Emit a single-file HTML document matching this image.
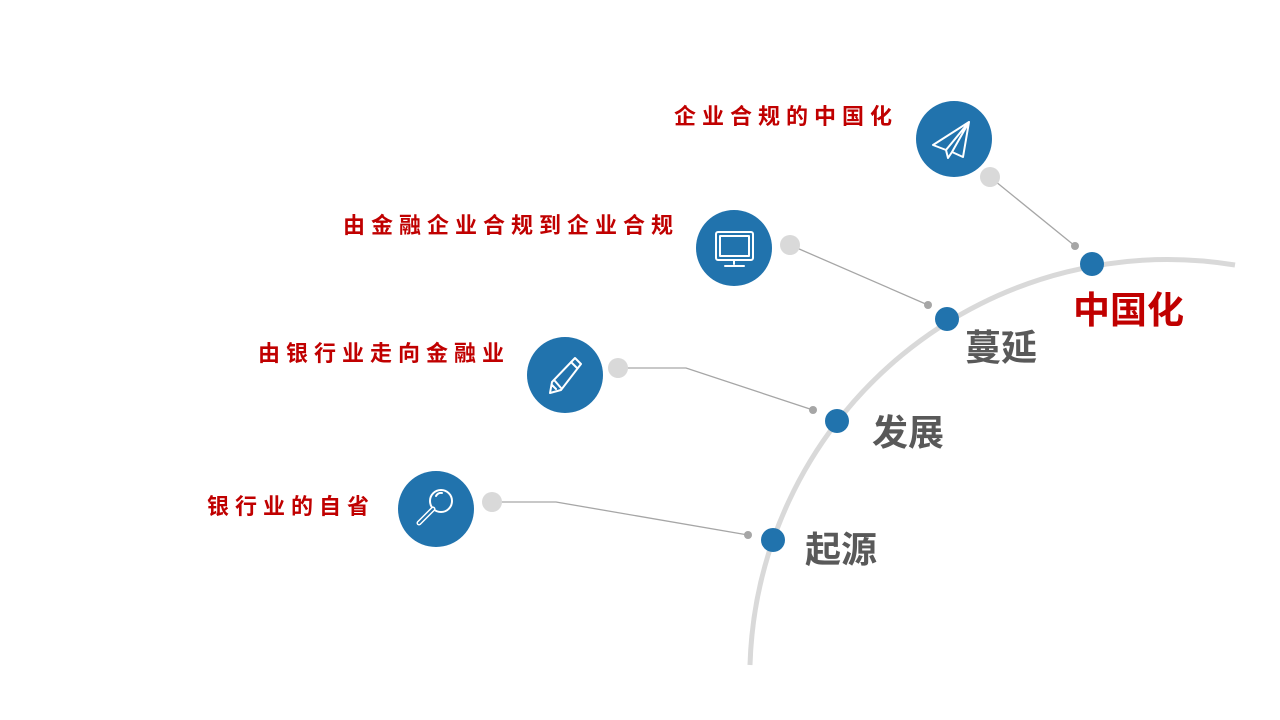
<!DOCTYPE html>
<html><head><meta charset="utf-8"><style>
body{margin:0;width:1280px;height:720px;background:#fff;overflow:hidden;position:relative;font-family:"Liberation Sans","Noto Sans CJK SC",sans-serif}
.r{position:absolute;color:#c00000;font-weight:bold;font-size:22px;letter-spacing:6px;line-height:30px;white-space:nowrap}
.g{position:absolute;color:#595959;font-weight:bold;font-size:36px;line-height:40px;white-space:nowrap}
svg{position:absolute;left:0;top:0}
</style></head><body>
<svg width="1280" height="720">
<path d="M750 665 A418 418 0 0 1 1235 265" fill="none" stroke="#d9d9d9" stroke-width="5"/>
<g stroke="#a6a6a6" stroke-width="1.3" fill="none">
<polyline points="990,177 1075,246"/>
<polyline points="790,245 928,305"/>
<polyline points="618,368 686,368 813,410"/>
<polyline points="492,502 556,502 748,535"/>
</g>
<g fill="#a6a6a6"><circle cx="1075" cy="246" r="4"/><circle cx="928" cy="305" r="4"/><circle cx="813" cy="410" r="4"/><circle cx="748" cy="535" r="4"/></g>
<g fill="#d9d9d9"><circle cx="990" cy="177" r="10"/><circle cx="790" cy="245" r="10"/><circle cx="618" cy="368" r="10"/><circle cx="492" cy="502" r="10"/></g>
<g fill="#2173ad"><circle cx="954" cy="139" r="38"/><circle cx="734" cy="248" r="38"/><circle cx="565" cy="375" r="38"/><circle cx="436" cy="509" r="38"/>
<circle cx="1092" cy="264" r="12"/><circle cx="947" cy="319" r="12"/><circle cx="837" cy="421" r="12"/><circle cx="773" cy="540" r="12"/></g>
<g stroke="#fff" stroke-width="2" fill="none" stroke-linejoin="round" stroke-linecap="round">
<path d="M969 122 L933 145 L946 150 L948 158 L952 152 L963 157 Z M969 122 L946 150 M969 122 L952 152"/>
<rect x="716" y="232" width="37" height="28" rx="2"/><rect x="720" y="236" width="29" height="20"/><path d="M734 260 v4 M725 266 h19"/>
<path d="M575 358 L581 364 L561 390 L550 393 L552 382 Z M571 362 L577 368 M555 381 L561 388 M552 385 L556 389"/>
<circle cx="441" cy="501" r="11"/><path d="M433 509 L419 523" stroke-width="5"/><path d="M433 509 L419 523" stroke="#2173ad" stroke-width="2"/><path d="M436 496 a6 6 0 0 1 6 -3"/>
</g>
</svg>
<div class="r" style="left:674px;top:102px">企业合规的中国化</div>
<div class="r" style="left:343px;top:211px">由金融企业合规到企业合规</div>
<div class="r" style="left:258px;top:339px">由银行业走向金融业</div>
<div class="r" style="left:207px;top:492px">银行业的自省</div>
<div class="g" style="left:1073px;top:291px;color:#c00000;font-size:37px">中国化</div>
<div class="g" style="left:965px;top:328px">蔓延</div>
<div class="g" style="left:872px;top:413px">发展</div>
<div class="g" style="left:805px;top:530px">起源</div>
</body></html>
